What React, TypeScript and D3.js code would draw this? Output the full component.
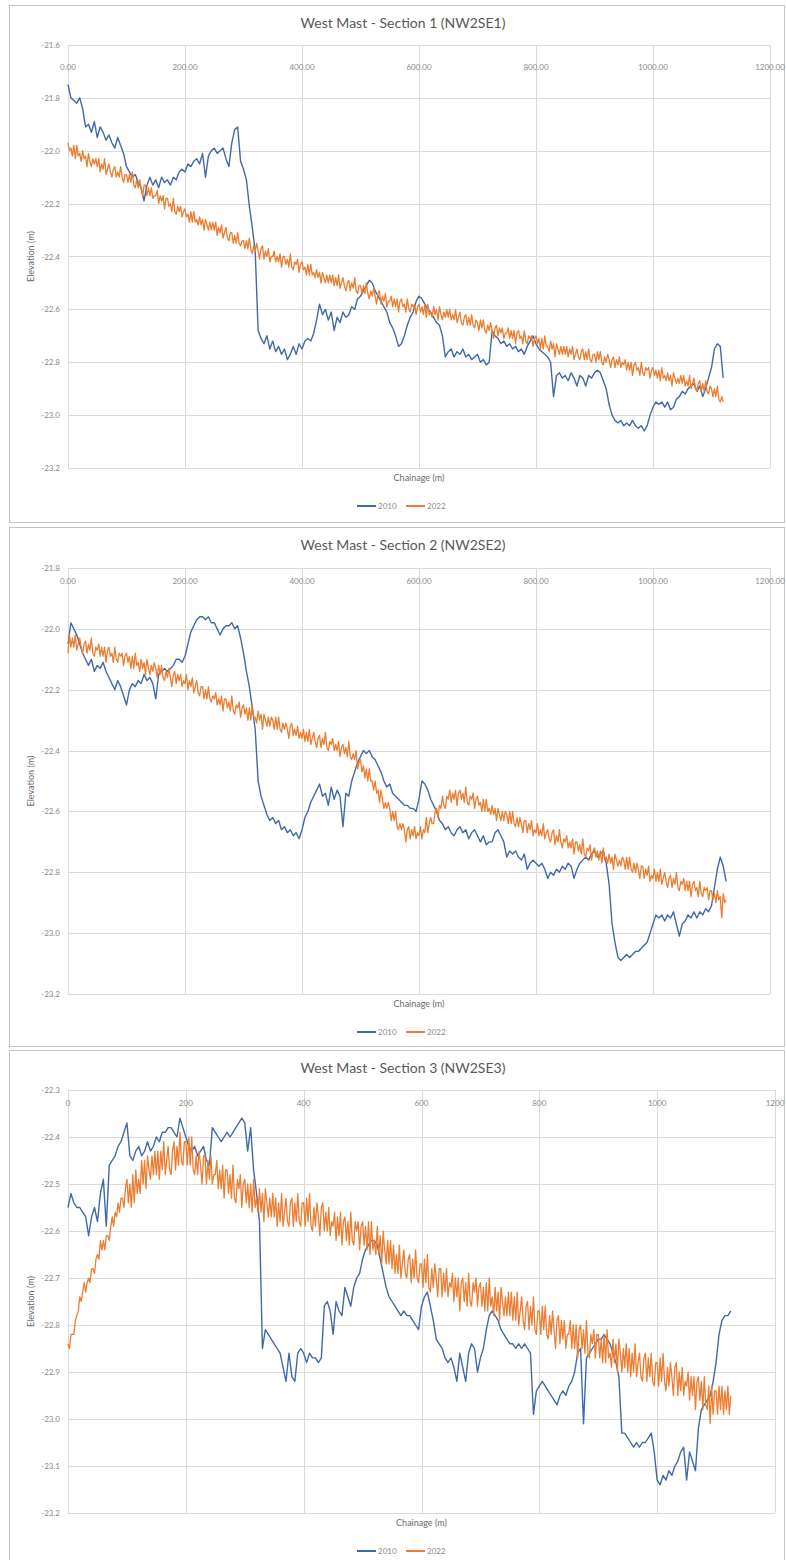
import React from "react";
import * as d3 from "d3";

// Survey sampling intervals along the section line (m).
const STEP_2010 = 5;
const STEP_2022 = 2.5;

// Section 1 (NW2SE1) — 2010 survey, every 5 m
const S1_2010 = [
  -21.75, -21.80, -21.81, -21.82, -21.80, -21.84, -21.91, -21.90, -21.93, -21.89, -21.95, -21.91, -21.93, -21.96, -21.94, -21.97, -21.99, -21.95, -21.98, -22.01,
  -22.06, -22.08, -22.10, -22.09, -22.12, -22.14, -22.19, -22.13, -22.10, -22.13, -22.11, -22.14, -22.10, -22.12, -22.11, -22.13, -22.10, -22.11, -22.08, -22.07,
  -22.08, -22.05, -22.06, -22.04, -22.03, -22.05, -22.01, -22.10, -22.02, -22.00, -21.99, -22.01, -22.00, -21.99, -22.03, -22.06, -21.97, -21.92, -21.91, -22.04,
  -22.07, -22.11, -22.21, -22.29, -22.38, -22.68, -22.71, -22.73, -22.70, -22.75, -22.72, -22.76, -22.74, -22.77, -22.75, -22.79, -22.77, -22.74, -22.77, -22.73,
  -22.75, -22.72, -22.71, -22.72, -22.69, -22.64, -22.58, -22.62, -22.60, -22.64, -22.61, -22.68, -22.63, -22.65, -22.61, -22.63, -22.62, -22.59, -22.60, -22.56,
  -22.55, -22.53, -22.51, -22.49, -22.50, -22.53, -22.55, -22.57, -22.59, -22.61, -22.65, -22.67, -22.70, -22.74, -22.73, -22.70, -22.66, -22.63, -22.61, -22.57,
  -22.55, -22.56, -22.58, -22.60, -22.61, -22.63, -22.65, -22.66, -22.70, -22.78, -22.76, -22.75, -22.78, -22.76, -22.77, -22.75, -22.78, -22.77, -22.79, -22.78,
  -22.77, -22.80, -22.79, -22.81, -22.80, -22.68, -22.70, -22.71, -22.73, -22.72, -22.74, -22.73, -22.75, -22.74, -22.76, -22.75, -22.77, -22.74, -22.72, -22.70,
  -22.73, -22.75, -22.76, -22.77, -22.78, -22.80, -22.93, -22.85, -22.84, -22.86, -22.85, -22.87, -22.84, -22.86, -22.89, -22.85, -22.86, -22.89, -22.85, -22.86,
  -22.84, -22.83, -22.84, -22.87, -22.90, -22.96, -23.00, -23.02, -23.03, -23.02, -23.04, -23.03, -23.04, -23.02, -23.04, -23.05, -23.04, -23.06, -23.04, -23.00,
  -22.97, -22.95, -22.96, -22.95, -22.97, -22.95, -22.98, -22.97, -22.94, -22.93, -22.91, -22.92, -22.90, -22.89, -22.88, -22.91, -22.89, -22.93, -22.90, -22.86,
  -22.82, -22.75, -22.73, -22.74, -22.86,
];
// Section 1 (NW2SE1) — 2022 survey, every 2.5 m
const S1_2022 = [
  -21.97, -22.00, -21.99, -22.02, -21.98, -22.03, -21.98, -22.02, -22.01, -22.04, -22.00, -22.03, -22.02, -22.06, -22.01, -22.04, -22.06, -22.03, -22.05, -22.03,
  -22.06, -22.03, -22.08, -22.05, -22.07, -22.03, -22.09, -22.07, -22.05, -22.08, -22.10, -22.07, -22.06, -22.10, -22.08, -22.10, -22.06, -22.10, -22.12, -22.09,
  -22.09, -22.12, -22.09, -22.12, -22.08, -22.13, -22.14, -22.11, -22.14, -22.11, -22.14, -22.17, -22.13, -22.13, -22.17, -22.14, -22.17, -22.14, -22.18, -22.17,
  -22.17, -22.15, -22.20, -22.17, -22.19, -22.17, -22.22, -22.18, -22.18, -22.21, -22.20, -22.23, -22.18, -22.23, -22.24, -22.21, -22.23, -22.21, -22.25, -22.23,
  -22.22, -22.25, -22.24, -22.27, -22.23, -22.27, -22.23, -22.27, -22.26, -22.28, -22.25, -22.28, -22.26, -22.30, -22.26, -22.28, -22.30, -22.27, -22.30, -22.27,
  -22.30, -22.27, -22.32, -22.29, -22.31, -22.28, -22.33, -22.31, -22.29, -22.33, -22.34, -22.31, -22.31, -22.35, -22.32, -22.35, -22.31, -22.35, -22.36, -22.34,
  -22.34, -22.37, -22.34, -22.37, -22.33, -22.37, -22.39, -22.36, -22.38, -22.35, -22.38, -22.41, -22.37, -22.36, -22.41, -22.38, -22.40, -22.37, -22.42, -22.40,
  -22.40, -22.38, -22.42, -22.40, -22.42, -22.39, -22.44, -22.40, -22.40, -22.43, -22.41, -22.44, -22.39, -22.44, -22.45, -22.42, -22.43, -22.41, -22.46, -22.43,
  -22.42, -22.45, -22.44, -22.47, -22.43, -22.47, -22.43, -22.47, -22.46, -22.48, -22.45, -22.48, -22.46, -22.50, -22.46, -22.48, -22.50, -22.47, -22.50, -22.47,
  -22.50, -22.47, -22.51, -22.48, -22.51, -22.47, -22.52, -22.50, -22.48, -22.51, -22.53, -22.50, -22.49, -22.53, -22.50, -22.52, -22.48, -22.53, -22.54, -22.51,
  -22.51, -22.54, -22.51, -22.54, -22.50, -22.54, -22.56, -22.53, -22.55, -22.52, -22.55, -22.58, -22.54, -22.53, -22.58, -22.55, -22.57, -22.54, -22.59, -22.57,
  -22.57, -22.55, -22.59, -22.56, -22.59, -22.56, -22.61, -22.57, -22.56, -22.59, -22.58, -22.61, -22.56, -22.60, -22.61, -22.58, -22.59, -22.58, -22.62, -22.59,
  -22.58, -22.61, -22.59, -22.62, -22.58, -22.63, -22.58, -22.62, -22.61, -22.63, -22.59, -22.62, -22.60, -22.64, -22.59, -22.62, -22.64, -22.61, -22.63, -22.60,
  -22.63, -22.60, -22.64, -22.62, -22.64, -22.60, -22.65, -22.63, -22.61, -22.65, -22.66, -22.63, -22.62, -22.66, -22.63, -22.66, -22.62, -22.66, -22.67, -22.64,
  -22.65, -22.68, -22.64, -22.67, -22.64, -22.68, -22.69, -22.66, -22.68, -22.65, -22.68, -22.71, -22.67, -22.66, -22.70, -22.67, -22.69, -22.67, -22.71, -22.69,
  -22.69, -22.67, -22.71, -22.68, -22.71, -22.68, -22.73, -22.69, -22.68, -22.71, -22.70, -22.73, -22.68, -22.72, -22.73, -22.70, -22.71, -22.70, -22.74, -22.71,
  -22.70, -22.73, -22.71, -22.75, -22.71, -22.75, -22.70, -22.74, -22.74, -22.76, -22.72, -22.75, -22.73, -22.78, -22.73, -22.75, -22.77, -22.74, -22.77, -22.74,
  -22.77, -22.74, -22.78, -22.75, -22.77, -22.74, -22.79, -22.77, -22.75, -22.78, -22.79, -22.76, -22.75, -22.79, -22.76, -22.79, -22.75, -22.79, -22.80, -22.77,
  -22.77, -22.80, -22.76, -22.79, -22.76, -22.80, -22.81, -22.78, -22.80, -22.77, -22.79, -22.82, -22.79, -22.78, -22.82, -22.79, -22.81, -22.78, -22.82, -22.80,
  -22.81, -22.79, -22.83, -22.80, -22.83, -22.80, -22.85, -22.81, -22.80, -22.83, -22.82, -22.85, -22.80, -22.84, -22.85, -22.82, -22.83, -22.82, -22.86, -22.83,
  -22.82, -22.85, -22.83, -22.86, -22.83, -22.87, -22.82, -22.86, -22.85, -22.87, -22.84, -22.87, -22.85, -22.89, -22.84, -22.86, -22.88, -22.86, -22.88, -22.85,
  -22.88, -22.85, -22.89, -22.87, -22.89, -22.85, -22.90, -22.88, -22.86, -22.90, -22.91, -22.88, -22.87, -22.91, -22.88, -22.91, -22.87, -22.91, -22.92, -22.89,
  -22.90, -22.93, -22.90, -22.93, -22.89, -22.94, -22.95, -22.93, -22.95,
];

// Section 2 (NW2SE2) — 2010 survey, every 5 m
const S2_2010 = [
  -22.05, -21.98, -22.00, -22.02, -22.05, -22.08, -22.10, -22.12, -22.10, -22.14, -22.12, -22.13, -22.11, -22.14, -22.16, -22.18, -22.20, -22.17, -22.19, -22.22,
  -22.25, -22.20, -22.18, -22.19, -22.17, -22.18, -22.15, -22.17, -22.16, -22.18, -22.23, -22.15, -22.14, -22.13, -22.14, -22.13, -22.12, -22.10, -22.10, -22.11,
  -22.09, -22.05, -22.01, -21.99, -21.97, -21.96, -21.96, -21.97, -21.96, -21.98, -21.98, -22.00, -22.02, -22.00, -21.99, -21.99, -21.98, -22.00, -21.99, -22.03,
  -22.08, -22.14, -22.19, -22.26, -22.33, -22.50, -22.55, -22.58, -22.61, -22.63, -22.62, -22.64, -22.63, -22.66, -22.65, -22.67, -22.66, -22.68, -22.67, -22.69,
  -22.66, -22.62, -22.60, -22.57, -22.55, -22.53, -22.51, -22.55, -22.54, -22.58, -22.52, -22.56, -22.53, -22.55, -22.65, -22.54, -22.55, -22.50, -22.47, -22.44,
  -22.42, -22.40, -22.41, -22.40, -22.42, -22.43, -22.45, -22.47, -22.50, -22.52, -22.51, -22.54, -22.55, -22.56, -22.57, -22.58, -22.58, -22.59, -22.59, -22.60,
  -22.56, -22.50, -22.51, -22.53, -22.56, -22.58, -22.60, -22.63, -22.64, -22.66, -22.65, -22.67, -22.68, -22.66, -22.65, -22.67, -22.66, -22.69, -22.67, -22.66,
  -22.68, -22.70, -22.68, -22.71, -22.70, -22.70, -22.67, -22.66, -22.68, -22.70, -22.75, -22.73, -22.74, -22.73, -22.75, -22.76, -22.74, -22.79, -22.77, -22.76,
  -22.77, -22.78, -22.77, -22.79, -22.82, -22.80, -22.81, -22.79, -22.80, -22.78, -22.79, -22.77, -22.78, -22.82, -22.79, -22.77, -22.76, -22.75, -22.76, -22.74,
  -22.73, -22.75, -22.74, -22.73, -22.77, -22.84, -22.97, -23.03, -23.08, -23.09, -23.08, -23.07, -23.08, -23.07, -23.06, -23.06, -23.05, -23.04, -23.03, -23.00,
  -22.97, -22.94, -22.95, -22.94, -22.96, -22.94, -22.95, -22.93, -22.97, -23.01, -22.97, -22.96, -22.94, -22.95, -22.93, -22.95, -22.93, -22.94, -22.92, -22.93,
  -22.91, -22.85, -22.79, -22.75, -22.78, -22.83,
];
// Section 2 (NW2SE2) — 2022 survey, every 2.5 m
const S2_2022 = [
  -22.08, -22.02, -22.06, -22.03, -22.06, -22.02, -22.07, -22.05, -22.03, -22.06, -22.08, -22.05, -22.04, -22.08, -22.05, -22.07, -22.03, -22.08, -22.09, -22.06,
  -22.07, -22.05, -22.09, -22.06, -22.09, -22.06, -22.11, -22.07, -22.06, -22.09, -22.08, -22.11, -22.06, -22.10, -22.11, -22.08, -22.09, -22.08, -22.12, -22.09,
  -22.08, -22.11, -22.09, -22.13, -22.09, -22.13, -22.08, -22.12, -22.11, -22.14, -22.10, -22.13, -22.11, -22.15, -22.10, -22.13, -22.15, -22.12, -22.14, -22.11,
  -22.13, -22.16, -22.12, -22.15, -22.12, -22.16, -22.17, -22.14, -22.16, -22.13, -22.16, -22.19, -22.15, -22.14, -22.18, -22.15, -22.17, -22.15, -22.19, -22.17,
  -22.18, -22.15, -22.20, -22.17, -22.19, -22.16, -22.21, -22.19, -22.17, -22.21, -22.22, -22.19, -22.19, -22.23, -22.20, -22.23, -22.19, -22.23, -22.24, -22.22,
  -22.23, -22.21, -22.25, -22.23, -22.25, -22.22, -22.27, -22.23, -22.23, -22.26, -22.24, -22.27, -22.22, -22.27, -22.28, -22.25, -22.26, -22.24, -22.29, -22.26,
  -22.25, -22.28, -22.26, -22.30, -22.26, -22.30, -22.25, -22.29, -22.29, -22.31, -22.27, -22.30, -22.28, -22.33, -22.28, -22.30, -22.32, -22.29, -22.32, -22.29,
  -22.30, -22.33, -22.29, -22.33, -22.29, -22.33, -22.34, -22.31, -22.33, -22.31, -22.33, -22.36, -22.32, -22.31, -22.35, -22.33, -22.35, -22.32, -22.36, -22.34,
  -22.36, -22.33, -22.37, -22.34, -22.37, -22.33, -22.38, -22.36, -22.34, -22.37, -22.39, -22.36, -22.35, -22.39, -22.36, -22.38, -22.34, -22.39, -22.40, -22.37,
  -22.38, -22.36, -22.40, -22.38, -22.40, -22.37, -22.42, -22.39, -22.38, -22.41, -22.39, -22.42, -22.37, -22.42, -22.43, -22.41, -22.43, -22.40, -22.46, -22.44,
  -22.43, -22.47, -22.45, -22.49, -22.46, -22.50, -22.46, -22.50, -22.50, -22.53, -22.50, -22.54, -22.53, -22.57, -22.53, -22.56, -22.59, -22.57, -22.59, -22.57,
  -22.59, -22.63, -22.60, -22.63, -22.60, -22.65, -22.66, -22.64, -22.66, -22.64, -22.66, -22.70, -22.66, -22.65, -22.69, -22.66, -22.68, -22.65, -22.69, -22.67,
  -22.68, -22.65, -22.69, -22.66, -22.67, -22.62, -22.67, -22.64, -22.62, -22.64, -22.64, -22.60, -22.59, -22.62, -22.58, -22.59, -22.55, -22.58, -22.59, -22.55,
  -22.56, -22.53, -22.57, -22.54, -22.56, -22.53, -22.58, -22.54, -22.53, -22.56, -22.54, -22.57, -22.52, -22.57, -22.58, -22.55, -22.56, -22.54, -22.59, -22.56,
  -22.55, -22.58, -22.57, -22.60, -22.56, -22.60, -22.56, -22.60, -22.59, -22.61, -22.58, -22.61, -22.59, -22.63, -22.59, -22.61, -22.63, -22.60, -22.63, -22.60,
  -22.61, -22.64, -22.60, -22.64, -22.60, -22.64, -22.65, -22.62, -22.65, -22.62, -22.64, -22.67, -22.63, -22.63, -22.67, -22.64, -22.66, -22.63, -22.68, -22.66,
  -22.67, -22.64, -22.68, -22.66, -22.68, -22.64, -22.69, -22.67, -22.66, -22.69, -22.70, -22.67, -22.66, -22.71, -22.68, -22.70, -22.66, -22.70, -22.72, -22.69,
  -22.70, -22.68, -22.72, -22.70, -22.72, -22.69, -22.74, -22.70, -22.70, -22.73, -22.71, -22.74, -22.69, -22.74, -22.75, -22.72, -22.73, -22.71, -22.76, -22.73,
  -22.72, -22.75, -22.73, -22.76, -22.73, -22.77, -22.72, -22.76, -22.75, -22.77, -22.74, -22.77, -22.75, -22.79, -22.74, -22.76, -22.78, -22.76, -22.78, -22.75,
  -22.76, -22.79, -22.75, -22.79, -22.75, -22.79, -22.80, -22.77, -22.80, -22.77, -22.79, -22.82, -22.78, -22.78, -22.82, -22.79, -22.81, -22.78, -22.83, -22.81,
  -22.82, -22.79, -22.83, -22.80, -22.83, -22.79, -22.84, -22.82, -22.80, -22.83, -22.85, -22.82, -22.81, -22.85, -22.82, -22.84, -22.80, -22.85, -22.86, -22.83,
  -22.84, -22.82, -22.86, -22.83, -22.86, -22.83, -22.88, -22.84, -22.83, -22.86, -22.85, -22.88, -22.83, -22.87, -22.88, -22.85, -22.86, -22.85, -22.89, -22.86,
  -22.86, -22.89, -22.87, -22.90, -22.86, -22.89, -22.88, -22.95, -22.87, -22.90, -22.89,
];

// Section 3 (NW2SE3) — 2010 survey, every 5 m
const S3_2010 = [
  -22.55, -22.52, -22.54, -22.55, -22.55, -22.56, -22.57, -22.61, -22.57, -22.55, -22.58, -22.52, -22.49, -22.59, -22.46, -22.45, -22.44, -22.42, -22.41, -22.39,
  -22.37, -22.44, -22.45, -22.43, -22.42, -22.44, -22.43, -22.41, -22.43, -22.42, -22.40, -22.41, -22.39, -22.39, -22.38, -22.38, -22.39, -22.40, -22.36, -22.38,
  -22.40, -22.42, -22.43, -22.42, -22.44, -22.43, -22.42, -22.45, -22.46, -22.38, -22.39, -22.40, -22.41, -22.40, -22.39, -22.40, -22.39, -22.38, -22.37, -22.36,
  -22.37, -22.43, -22.38, -22.47, -22.52, -22.58, -22.85, -22.81, -22.82, -22.83, -22.84, -22.85, -22.86, -22.89, -22.92, -22.86, -22.91, -22.92, -22.86, -22.85,
  -22.86, -22.88, -22.86, -22.87, -22.87, -22.88, -22.87, -22.76, -22.75, -22.77, -22.82, -22.75, -22.77, -22.78, -22.72, -22.74, -22.76, -22.72, -22.70, -22.69,
  -22.66, -22.64, -22.63, -22.62, -22.62, -22.63, -22.66, -22.69, -22.72, -22.74, -22.75, -22.76, -22.77, -22.78, -22.77, -22.78, -22.78, -22.79, -22.80, -22.81,
  -22.76, -22.74, -22.73, -22.76, -22.79, -22.83, -22.84, -22.85, -22.87, -22.88, -22.87, -22.89, -22.92, -22.86, -22.89, -22.92, -22.86, -22.84, -22.85, -22.90,
  -22.87, -22.85, -22.81, -22.78, -22.77, -22.78, -22.79, -22.81, -22.82, -22.83, -22.84, -22.84, -22.85, -22.84, -22.85, -22.84, -22.85, -22.86, -22.99, -22.94,
  -22.93, -22.92, -22.93, -22.94, -22.95, -22.96, -22.97, -22.95, -22.94, -22.95, -22.93, -22.92, -22.90, -22.86, -22.85, -23.01, -22.87, -22.86, -22.85, -22.84,
  -22.83, -22.83, -22.82, -22.83, -22.84, -22.86, -22.88, -22.91, -23.03, -23.03, -23.04, -23.05, -23.06, -23.05, -23.06, -23.05, -23.05, -23.04, -23.03, -23.07,
  -23.13, -23.14, -23.12, -23.13, -23.11, -23.12, -23.10, -23.09, -23.07, -23.06, -23.13, -23.07, -23.09, -23.11, -23.02, -22.98, -22.97, -22.96, -22.95, -22.92,
  -22.88, -22.82, -22.79, -22.78, -22.78, -22.77,
];
// Section 3 (NW2SE3) — 2022 survey, every 2.5 m
const S3_2022 = [
  -22.84, -22.85, -22.82, -22.82, -22.82, -22.79, -22.78, -22.77, -22.74, -22.75, -22.73, -22.71, -22.73, -22.71, -22.70, -22.71, -22.68, -22.68, -22.69, -22.66,
  -22.65, -22.66, -22.62, -22.64, -22.62, -22.64, -22.61, -22.61, -22.62, -22.59, -22.57, -22.59, -22.56, -22.57, -22.54, -22.56, -22.53, -22.53, -22.55, -22.51,
  -22.49, -22.54, -22.50, -22.55, -22.48, -22.54, -22.47, -22.52, -22.49, -22.52, -22.45, -22.50, -22.45, -22.51, -22.44, -22.47, -22.49, -22.44, -22.48, -22.43,
  -22.48, -22.43, -22.49, -22.43, -22.47, -22.41, -22.48, -22.45, -22.42, -22.47, -22.48, -22.43, -22.41, -22.47, -22.42, -22.46, -22.39, -22.45, -22.46, -22.41,
  -22.41, -22.46, -22.40, -22.46, -22.40, -22.47, -22.48, -22.44, -22.48, -22.43, -22.46, -22.50, -22.44, -22.44, -22.50, -22.45, -22.49, -22.44, -22.50, -22.48,
  -22.48, -22.45, -22.51, -22.47, -22.51, -22.46, -22.53, -22.47, -22.47, -22.52, -22.48, -22.53, -22.46, -22.53, -22.54, -22.49, -22.51, -22.48, -22.55, -22.50,
  -22.49, -22.54, -22.50, -22.55, -22.50, -22.56, -22.49, -22.55, -22.53, -22.56, -22.51, -22.56, -22.52, -22.58, -22.51, -22.54, -22.57, -22.53, -22.57, -22.52,
  -22.57, -22.53, -22.59, -22.54, -22.58, -22.52, -22.59, -22.56, -22.53, -22.58, -22.59, -22.54, -22.53, -22.59, -22.54, -22.58, -22.52, -22.58, -22.59, -22.54,
  -22.54, -22.59, -22.53, -22.58, -22.52, -22.59, -22.60, -22.55, -22.59, -22.54, -22.57, -22.61, -22.55, -22.54, -22.60, -22.56, -22.60, -22.55, -22.61, -22.58,
  -22.59, -22.56, -22.62, -22.57, -22.61, -22.56, -22.63, -22.58, -22.57, -22.62, -22.58, -22.63, -22.56, -22.62, -22.63, -22.58, -22.60, -22.58, -22.64, -22.59,
  -22.58, -22.63, -22.59, -22.64, -22.58, -22.65, -22.58, -22.64, -22.62, -22.65, -22.59, -22.65, -22.61, -22.67, -22.60, -22.64, -22.67, -22.62, -22.67, -22.62,
  -22.68, -22.63, -22.69, -22.65, -22.69, -22.63, -22.70, -22.67, -22.64, -22.69, -22.70, -22.66, -22.65, -22.71, -22.66, -22.70, -22.64, -22.70, -22.71, -22.67,
  -22.67, -22.72, -22.66, -22.71, -22.65, -22.72, -22.73, -22.68, -22.72, -22.67, -22.70, -22.74, -22.68, -22.68, -22.74, -22.69, -22.73, -22.68, -22.74, -22.71,
  -22.72, -22.69, -22.75, -22.70, -22.74, -22.70, -22.77, -22.71, -22.70, -22.75, -22.71, -22.76, -22.69, -22.75, -22.76, -22.71, -22.73, -22.70, -22.76, -22.72,
  -22.71, -22.76, -22.72, -22.77, -22.71, -22.77, -22.70, -22.76, -22.74, -22.78, -22.72, -22.77, -22.73, -22.79, -22.72, -22.75, -22.78, -22.74, -22.78, -22.73,
  -22.78, -22.73, -22.79, -22.74, -22.79, -22.73, -22.80, -22.77, -22.74, -22.79, -22.81, -22.76, -22.75, -22.81, -22.76, -22.80, -22.74, -22.81, -22.82, -22.77,
  -22.77, -22.82, -22.76, -22.81, -22.76, -22.82, -22.83, -22.78, -22.82, -22.77, -22.81, -22.85, -22.79, -22.78, -22.84, -22.79, -22.83, -22.79, -22.85, -22.82,
  -22.82, -22.79, -22.85, -22.80, -22.85, -22.80, -22.87, -22.81, -22.80, -22.85, -22.81, -22.86, -22.79, -22.86, -22.87, -22.82, -22.84, -22.81, -22.87, -22.82,
  -22.82, -22.87, -22.83, -22.88, -22.82, -22.88, -22.81, -22.87, -22.86, -22.89, -22.83, -22.88, -22.84, -22.90, -22.83, -22.86, -22.90, -22.85, -22.89, -22.84,
  -22.90, -22.85, -22.91, -22.86, -22.90, -22.84, -22.91, -22.88, -22.86, -22.91, -22.92, -22.87, -22.86, -22.92, -22.87, -22.91, -22.86, -22.92, -22.93, -22.88,
  -22.88, -22.93, -22.87, -22.92, -22.86, -22.92, -22.94, -22.89, -22.93, -22.88, -22.91, -22.95, -22.89, -22.88, -22.95, -22.90, -22.94, -22.89, -22.95, -22.92,
  -22.93, -22.90, -22.96, -22.91, -22.95, -22.91, -22.98, -22.92, -22.91, -22.96, -22.92, -22.98, -22.91, -22.97, -22.98, -22.93, -23.01, -22.93, -22.99, -22.94,
  -22.94, -22.99, -22.93, -22.98, -22.93, -22.99, -22.94, -22.98, -22.93, -22.99, -22.95,
];

// Axis ticks
const X_TICKS = [0, 200, 400, 600, 800, 1000, 1200];
const Y_TICKS_S1 = [-21.6, -21.8, -22.0, -22.2, -22.4, -22.6, -22.8, -23.0, -23.2];
const Y_TICKS_S2 = [-21.8, -22.0, -22.2, -22.4, -22.6, -22.8, -23.0, -23.2];
const Y_TICKS_S3 = [-22.3, -22.4, -22.5, -22.6, -22.7, -22.8, -22.9, -23.0, -23.1, -23.2];

const SERIES_NAMES = ["2010", "2022"];
const SERIES_STEPS = [STEP_2010, STEP_2022];
const TITLES = [
  "West Mast - Section 1 (NW2SE1)",
  "West Mast - Section 2 (NW2SE2)",
  "West Mast - Section 3 (NW2SE3)",
];

const COLORS = ["#4169aa", "#ed7d31"];
const FONT = "Lato, 'Open Sans', sans-serif";
const GRID = "#dadada";
const TICK_TEXT = "#8a8a8a";
const LABEL_TEXT = "#6b6b6b";

type PanelProps = {
  title: string;
  series: number[][];
  yTicks: number[];
  xDecimals: number;
  frame: { top: number; height: number };
  plot: { left: number; right: number; top: number; bottom: number };
  titleY: number;
  xLabelY: number;
};

function Panel({ title, series, yTicks, xDecimals, frame, plot, titleY, xLabelY }: PanelProps) {
  const x = d3
    .scaleLinear()
    .domain([X_TICKS[0], X_TICKS[X_TICKS.length - 1]])
    .range([plot.left, plot.right]);
  const y = d3
    .scaleLinear()
    .domain([yTicks[yTicks.length - 1], yTicks[0]])
    .range([plot.bottom, plot.top]);

  const midX = (plot.left + plot.right) / 2;
  const legendY = plot.bottom + 38;
  const legendX = 357;

  return (
    <g>
      <rect
        x={9.5}
        y={frame.top + 0.5}
        width={775}
        height={frame.height}
        fill="#fff"
        stroke="#c4c4c4"
        strokeWidth={1}
      />
      <text x={403} y={titleY} textAnchor="middle" fontFamily={FONT} fontSize={14} fill="#595959">
        {title}
      </text>

      {/* gridlines */}
      {yTicks.map((t) => (
        <line
          key={"gy" + t}
          x1={plot.left}
          x2={plot.right}
          y1={Math.round(y(t)) + 0.5}
          y2={Math.round(y(t)) + 0.5}
          stroke={GRID}
          strokeWidth={1}
        />
      ))}
      {X_TICKS.map((t) => (
        <line
          key={"gx" + t}
          x1={Math.round(x(t)) + 0.5}
          x2={Math.round(x(t)) + 0.5}
          y1={plot.top}
          y2={plot.bottom}
          stroke={GRID}
          strokeWidth={1}
        />
      ))}

      {/* tick labels */}
      {yTicks.map((t) => (
        <text
          key={"ly" + t}
          x={plot.left - 8}
          y={y(t) + 3}
          textAnchor="end"
          fontFamily={FONT}
          fontSize={8}
          fill={TICK_TEXT}
        >
          {t.toFixed(1)}
        </text>
      ))}
      {X_TICKS.map((t) => (
        <text
          key={"lx" + t}
          x={x(t)}
          y={xLabelY}
          textAnchor="middle"
          fontFamily={FONT}
          fontSize={8}
          fill={TICK_TEXT}
        >
          {t.toFixed(xDecimals)}
        </text>
      ))}

      {/* axis titles */}
      <text
        transform={`translate(34,${(plot.top + plot.bottom) / 2}) rotate(-90)`}
        textAnchor="middle"
        fontFamily={FONT}
        fontSize={9}
        fill={LABEL_TEXT}
      >
        Elevation (m)
      </text>
      <text x={midX} y={plot.bottom + 13} textAnchor="middle" fontFamily={FONT} fontSize={9} fill={LABEL_TEXT}>
        Chainage (m)
      </text>

      {/* profiles */}
      {series.map((s, k) => {
        const step = SERIES_STEPS[k];
        const line = d3
          .line<number>()
          .x((_, i) => x(i * step))
          .y((d) => y(d));
        return (
          <path
            key={"s" + k}
            d={line(s) ?? ""}
            fill="none"
            stroke={COLORS[k]}
            strokeWidth={k === 0 ? 1.4 : 1.3}
            strokeLinejoin="round"
          />
        );
      })}

      {/* legend */}
      {SERIES_NAMES.map((name, k) => (
        <g key={"lg" + name} transform={`translate(${legendX + k * 49},${legendY})`}>
          <line x1={0} x2={19} y1={0} y2={0} stroke={COLORS[k]} strokeWidth={2} />
          <text x={21} y={3} fontFamily={FONT} fontSize={8} fill={TICK_TEXT}>
            {name}
          </text>
        </g>
      ))}
    </g>
  );
}

export default function App() {
  return (
    <svg
      width={786}
      height={1560}
      viewBox="0 0 786 1560"
      style={{ position: "absolute", left: 0, top: 0, background: "#fff" }}
    >
      <rect x={0} y={0} width={786} height={1560} fill="#fff" />
      <Panel
        title={TITLES[0]}
        series={[S1_2010, S1_2022]}
        yTicks={Y_TICKS_S1}
        xDecimals={2}
        frame={{ top: 5, height: 517 }}
        plot={{ left: 68, right: 770, top: 45, bottom: 468 }}
        titleY={28}
        xLabelY={70}
      />
      <Panel
        title={TITLES[1]}
        series={[S2_2010, S2_2022]}
        yTicks={Y_TICKS_S2}
        xDecimals={2}
        frame={{ top: 527, height: 519 }}
        plot={{ left: 68, right: 770, top: 568, bottom: 994 }}
        titleY={550}
        xLabelY={584}
      />
      <Panel
        title={TITLES[2]}
        series={[S3_2010, S3_2022]}
        yTicks={Y_TICKS_S3}
        xDecimals={0}
        frame={{ top: 1050, height: 520 }}
        plot={{ left: 68, right: 775, top: 1090, bottom: 1513 }}
        titleY={1073}
        xLabelY={1106}
      />
    </svg>
  );
}
